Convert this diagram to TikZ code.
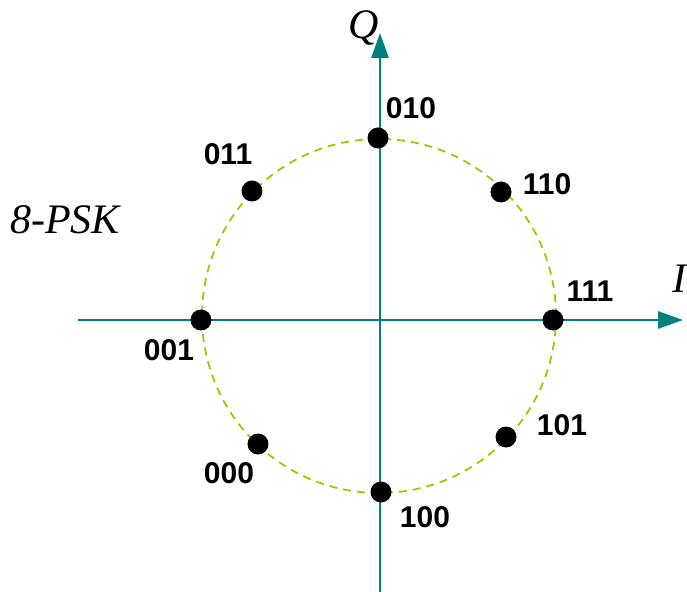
\documentclass[tikz,border=0pt]{standalone}
\usepackage{fontspec}
\setmainfont{Liberation Serif}
\setsansfont{Liberation Sans}
\usetikzlibrary{arrows.meta}

\definecolor{axisteal}{RGB}{0,128,128}
\definecolor{ringgreen}{RGB}{153,204,0}

\begin{document}
\begin{tikzpicture}[
  x=1pt, y=1pt,
  >={Triangle[length=25pt,width=17pt]},
  axis/.style={->, line width=2.8pt, axisteal},
  ring/.style={ringgreen, line width=1.8pt, dash pattern=on 8pt off 6pt},
  symb/.style={circle, fill=black, minimum size=21pt, inner sep=0pt},
  bits/.style={font=\fontsize{30}{33}\selectfont\sffamily\bfseries, inner sep=0pt},
  axlbl/.style={font=\fontsize{42}{46}\selectfont\itshape, inner sep=0pt}
]
\useasboundingbox (-380,-271) rectangle (307,320);

%% ── Axes ────────────────────────────────────────────────────────────
\coordinate (iw) at (-302,0);
\coordinate (ie) at (303,0);
\coordinate (qs) at (0,-275);
\coordinate (qn) at (0,287);
\draw[axis] (iw) -- (ie);
\draw[axis] (qs) -- (qn);

\node[axlbl] (qlbl) at (-16,292) {Q};
\node[axlbl, anchor=west] (ilbl) at (292,41) {I};
\node[axlbl] (name) at (-315,100) {8-PSK};

%% ── Constellation ring ──────────────────────────────────────────────
\draw[ring] (-1,4) circle[radius=177];

%% ── Symbols ─────────────────────────────────────────────────────────
\node[symb] (s010) at (-2,182) {};
\node[symb] (s110) at (121,128) {};
\node[symb] (s111) at (173,0) {};
\node[symb] (s101) at (126,-117) {};
\node[symb] (s100) at (1,-172) {};
\node[symb] (s000) at (-122,-124) {};
\node[symb] (s001) at (-179,0) {};
\node[symb] (s011) at (-128,129) {};

%% ── Bit labels ──────────────────────────────────────────────────────
\node[bits] (l010) at (31,212) {010};
\node[bits] (l110) at (167,136) {110};
\node[bits] (l111) at (210,29) {111};
\node[bits] (l101) at (182,-105) {101};
\node[bits] (l100) at (45,-197) {100};
\node[bits] (l000) at (-151,-153) {000};
\node[bits] (l001) at (-211,-30) {001};
\node[bits] (l011) at (-152,166) {011};

\end{tikzpicture}
\end{document}
